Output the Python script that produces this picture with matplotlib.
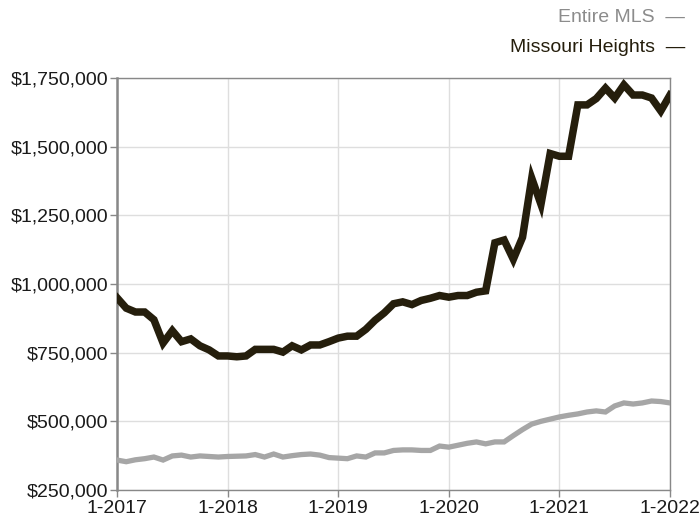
import matplotlib.pyplot as plt
import numpy as np

plt.rcParams['font.family'] = ['Liberation Sans', 'DejaVu Sans']

# monthly values, 1-2017 .. 1-2022
missouri_heights = [
    950000, 912000, 898000, 898000, 870000, 785000, 830000, 790000, 800000, 775000,
    760000, 738000, 738000, 735000, 738000, 762000, 762000, 762000, 752000, 775000,
    760000, 778000, 778000, 790000, 803000, 810000, 810000, 835000, 868000, 895000,
    928000, 935000, 925000, 940000, 948000, 958000, 952000, 958000, 958000, 970000,
    975000, 1150000, 1160000, 1090000, 1170000, 1385000, 1290000, 1475000, 1465000, 1465000,
    1652000, 1652000, 1675000, 1713000, 1677000, 1725000, 1688000, 1688000, 1677000, 1630000,
    1688000,
]
entire_mls = [
    359000, 353000, 360000, 364000, 370000, 359000, 374000, 377000, 370000, 374000,
    372000, 370000, 372000, 373000, 374000, 379000, 370000, 381000, 370000, 375000,
    379000, 381000, 377000, 368000, 366000, 364000, 374000, 370000, 385000, 385000,
    394000, 396000, 396000, 394000, 394000, 410000, 406000, 413000, 420000, 425000,
    418000, 425000, 425000, 448000, 470000, 490000, 500000, 508000, 516000, 522000,
    527000, 534000, 538000, 534000, 556000, 567000, 563000, 567000, 574000, 572000,
    567000,
]
x_labels = ['1-2017', '1-2018', '1-2019', '1-2020', '1-2021', '1-2022']
y_ticks = [250000, 500000, 750000, 1000000, 1250000, 1500000, 1750000]

months = np.arange(len(missouri_heights))

fig = plt.figure(figsize=(6.99, 5.23), dpi=100)
ax = fig.add_axes([0.1674, 0.0631, 0.7911, 0.7878])

ax.plot(months, entire_mls, color='#a6a6a6', lw=3.8, solid_joinstyle='miter', zorder=3)
ax.plot(months, missouri_heights, color='#251e0c', lw=5.4, solid_joinstyle='miter', zorder=4)

ax.set_xlim(0, 60)
ax.set_ylim(250000, 1750000)
ax.set_xticks(np.arange(0, 61, 12))
ax.set_xticklabels(x_labels)
ax.set_yticks(y_ticks)
ax.set_yticklabels(['${:,}'.format(v) for v in y_ticks])

ax.grid(True, color='#dedede', lw=1)
ax.set_axisbelow(True)
for s in ax.spines.values():
    s.set_color('#888888')
    s.set_linewidth(1)
ax.spines['left'].set_linewidth(1.8)
ax.tick_params(axis='both', colors='#888888', length=5, width=1, labelsize=14,
               labelcolor='#1a1a1a')
ax.tick_params(axis='y', pad=1)
ax.tick_params(axis='x', pad=2)

# legend as text, right aligned
fig.text(0.980, 0.967, 'Entire MLS  \u2014', ha='right', va='center',
         fontsize=14, color='#8c8c8c')
fig.text(0.980, 0.910, 'Missouri Heights  \u2014', ha='right', va='center',
         fontsize=14, color='#251e0c')

fig.savefig('out.png', dpi=100)
